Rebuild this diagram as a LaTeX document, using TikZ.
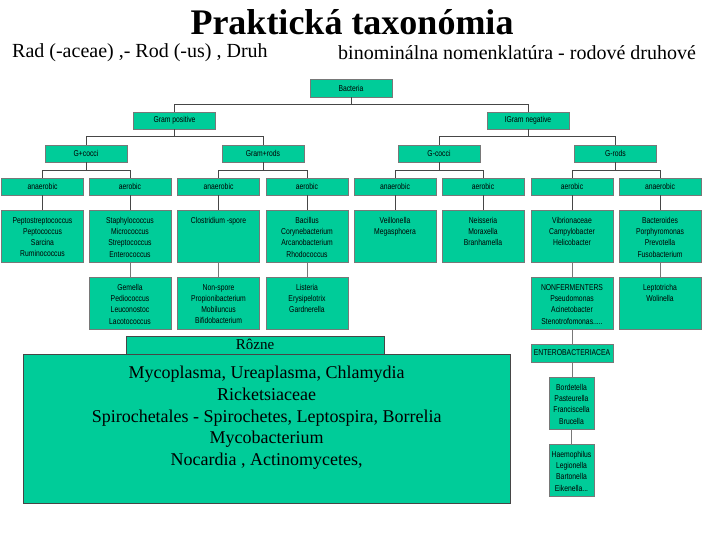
\documentclass[tikz,border=0pt]{standalone}
\usepackage{fontspec}
\setmainfont{Liberation Serif}
\newfontfamily\narrowsans[FakeStretch=0.8]{Liberation Sans}
\usetikzlibrary{positioning}
\definecolor{taxfill}{RGB}{0,204,153}
\definecolor{taxline}{RGB}{70,70,70}
\definecolor{taxedge}{RGB}{120,120,120}
\newcommand{\genlist}[2]{\parbox[c][50pt][t]{#1}{\centering\vspace{6pt}#2}}

\begin{document}
\begin{tikzpicture}[x=1pt,y=-1pt]

\tikzstyle{taxon} = [draw=taxedge, fill=taxfill, font=\narrowsans\fontsize{8.5}{11.3}\selectfont, minimum width=82pt, minimum height=17pt, inner sep=0pt]
\tikzstyle{genera} = [taxon, anchor=north, minimum height=52pt]
\tikzstyle{conn} = [draw=taxline, line width=0.6pt]

\useasboundingbox (0,0) rectangle (720,540);

\node (title) at (352,22) {\fontsize{36}{40}\selectfont\bfseries Praktická taxonómia};
\node[anchor=west,inner sep=0pt] (ranks) at (12,53) {\fontsize{20}{22}\selectfont Rad (-aceae) ,- Rod (-us) , Druh};
\node[anchor=west,inner sep=0pt] (binom) at (338,53) {\fontsize{20}{22}\selectfont binominálna nomenklatúra - rodové druhové};

% tree
\node[taxon,minimum height=18pt] (bacteria) at (351,88) {Bacteria};
\node[taxon] (gpos) at (174.5,120.5) {Gram positive};
\node[taxon] (gneg) at (528,120.5) {IGram negative};

\node[taxon] (gpcocci) at (86,153.5) {G+cocci};
\node[taxon] (gprods) at (263,153.5) {Gram+rods};
\node[taxon] (gncocci) at (439,153.5) {G-cocci};
\node[taxon] (gnrods) at (615.5,153.5) {G-rods};

\node[taxon] (oxy1) at (42.5,186.5) {anaerobic};
\node[taxon] (oxy2) at (130,186.5) {aerobic};
\node[taxon] (oxy3) at (218.5,186.5) {anaerobic};
\node[taxon] (oxy4) at (307,186.5) {aerobic};
\node[taxon] (oxy5) at (395,186.5) {anaerobic};
\node[taxon] (oxy6) at (483,186.5) {aerobic};
\node[taxon] (oxy7) at (572,186.5) {aerobic};
\node[taxon] (oxy8) at (660,186.5) {anaerobic};

\node[genera] (gen1) at (42.5,210) {\genlist{80pt}{Peptostreptococcus\\Peptococcus\\Sarcina\\Ruminococcus}};
\node[genera] (gen2) at (130,210) {\genlist{80pt}{Staphylococcus\\Micrococcus\\Streptococcus\\Enterococcus}};
\node[genera] (gen3) at (218.5,210) {\genlist{80pt}{Clostridium -spore}};
\node[genera] (gen4) at (307,210) {\genlist{80pt}{Bacillus\\Corynebacterium\\Arcanobacterium\\Rhodococcus}};
\node[genera] (gen5) at (395,210) {\genlist{80pt}{Veillonella\\Megasphoera}};
\node[genera] (gen6) at (483,210) {\genlist{80pt}{Neisseria\\Moraxella\\Branhamella}};
\node[genera] (gen7) at (572,210) {\genlist{80pt}{Vibrionaceae\\Campylobacter\\Helicobacter}};
\node[genera] (gen8) at (660,210) {\genlist{80pt}{Bacteroides\\Porphyromonas\\Prevotella\\Fusobacterium}};

\node[genera] (more2) at (130,277) {\genlist{80pt}{Gemella\\Pediococcus\\Leuconostoc\\Lacotococcus}};
\node[genera] (more3) at (218.5,277) {\genlist{80pt}{Non-spore\\Propionibacterium\\Mobiluncus\\Bifidobacterium}};
\node[genera] (more4) at (307,277) {\genlist{80pt}{Listeria\\Erysipelotrix\\Gardnerella}};
\node[genera] (more7) at (572,277) {\genlist{80pt}{NONFERMENTERS\\Pseudomonas\\Acinetobacter\\Stenotrofomonas.....}};
\node[genera] (more8) at (660,277) {\genlist{80pt}{Leptotricha\\Wolinella}};

\node[taxon,minimum height=18pt] (entero) at (572,353) {ENTEROBACTERIACEA};
\node[genera,minimum width=45pt] (bord) at (571.5,377) {\genlist{44pt}{Bordetella\\Pasteurella\\Franciscella\\Brucella}};
\node[genera,minimum width=45pt] (haem) at (571.5,444) {\genlist{44pt}{Haemophilus\\Legionella\\Bartonella\\Eikenella...}};

% others
\node[draw=taxline,fill=taxfill,minimum width=487pt,minimum height=149pt,inner sep=0pt,anchor=north west] (others) at (23,354)
  {\parbox[c][147pt][t]{480pt}{\centering\fontsize{18}{21.7}\selectfont\vspace{11pt}Mycoplasma, Ureaplasma, Chlamydia\\Ricketsiaceae\\Spirochetales - Spirochetes, Leptospira, Borrelia\\Mycobacterium\\Nocardia , Actinomycetes,}};
\node[draw=taxline,fill=taxfill,minimum width=258pt,minimum height=18pt,inner sep=0pt,anchor=south] (rozne) at (255,354) {\fontsize{15}{16}\selectfont Rôzne};

\draw[conn] (bacteria.south) -- ++(0,7) -| (gpos.north);
\draw[conn] (bacteria.south) -- ++(0,7) -| (gneg.north);
\draw[conn] (gpos.south) -- ++(0,7.5) -| (gpcocci.north);
\draw[conn] (gpos.south) -- ++(0,7.5) -| (gprods.north);
\draw[conn] (gneg.south) -- ++(0,7.5) -| (gncocci.north);
\draw[conn] (gneg.south) -- ++(0,7.5) -| (gnrods.north);
\draw[conn] (gpcocci.south) -- ++(0,8) -| (oxy1.north);
\draw[conn] (gpcocci.south) -- ++(0,8) -| (oxy2.north);
\draw[conn] (gprods.south) -- ++(0,8) -| (oxy3.north);
\draw[conn] (gprods.south) -- ++(0,8) -| (oxy4.north);
\draw[conn] (gncocci.south) -- ++(0,8) -| (oxy5.north);
\draw[conn] (gncocci.south) -- ++(0,8) -| (oxy6.north);
\draw[conn] (gnrods.south) -- ++(0,8) -| (oxy7.north);
\draw[conn] (gnrods.south) -- ++(0,8) -| (oxy8.north);

\foreach \i in {1,...,8}
  \draw[conn] (oxy\i.south) -- (gen\i.north);
\foreach \i in {2,3,4,7,8}
  \draw[conn,draw=taxedge] (gen\i.south) -- (more\i.north);

\draw[conn,draw=taxedge] (more7.south) -- (entero.north);
\draw[conn,draw=taxedge] (entero.south) -- (entero.south |- bord.north);
\draw[conn,draw=taxedge] (bord.south) -- (haem.north);

\end{tikzpicture}
\end{document}
